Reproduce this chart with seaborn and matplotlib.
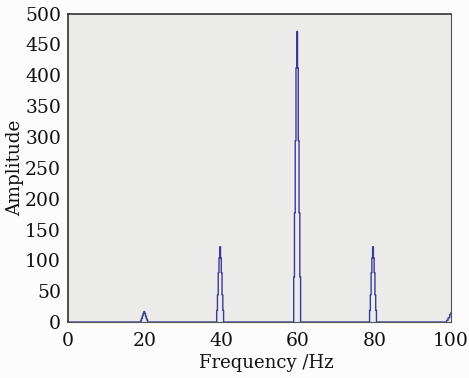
import numpy as np
import pandas as pd
import matplotlib
matplotlib.use('Agg')
import matplotlib.pyplot as plt
import seaborn as sns

# spectrum samples (Hz, amplitude)
freq_base = [0.0, 2.0, 4.0, 10.0, 18.7, 30.0, 38.5, 50.0, 58.6, 70.0, 78.4, 90.0, 98.6]
amp_base = [0, 0, 0, 0, 0, 0, 0, 0, 0, 0, 0, 0, 0]

freq_20 = [18.9, 19.1, 19.3, 19.5, 19.7, 19.9, 20.1, 20.3, 20.5, 20.7, 20.9]
amp_20 = [0, 3, 6, 10, 14, 17, 14, 10, 6, 3, 0]

freq_40 = [38.7, 38.9, 39.1, 39.3, 39.5, 39.7, 39.9, 40.1, 40.3, 40.5, 40.7]
amp_40 = [0, 19, 44, 80, 104, 122, 104, 80, 44, 19, 0]

freq_60 = [58.8, 59.0, 59.2, 59.4, 59.6, 59.8, 60.0, 60.2, 60.4, 60.6, 60.8]
amp_60 = [0, 73, 177, 294, 412, 471, 412, 294, 177, 73, 0]

freq_80 = [78.6, 78.8, 79.0, 79.2, 79.4, 79.6, 79.8, 80.0, 80.2, 80.4, 80.6]
amp_80 = [0, 19, 44, 80, 104, 122, 104, 80, 44, 19, 0]

freq_end = [99.0, 99.4, 99.8, 100.0]
amp_end = [3, 7, 12, 15]

df = pd.DataFrame({
    'Frequency': freq_base + freq_20 + freq_40 + freq_60 + freq_80 + freq_end,
    'Amplitude': amp_base + amp_20 + amp_40 + amp_60 + amp_80 + amp_end,
})

sns.set_theme(style='white')
plt.rcParams['font.family'] = ['DejaVu Serif']

fig = plt.figure(figsize=(4.69, 3.78), dpi=100)
fig.patch.set_facecolor('#fcfcfc')
ax = fig.add_axes([0.145, 0.148, 0.817, 0.816])
ax.set_facecolor('#ebebe9')

sns.lineplot(data=df, x='Frequency', y='Amplitude', ax=ax, color='#3a3a98',
             linewidth=1.0, drawstyle='steps-mid', clip_on=False, snap=False)

ax.set_xlim(0, 100)
ax.set_ylim(0, 500)
ax.set_xticks([0, 20, 40, 60, 80, 100])
ax.set_yticks(np.arange(0, 501, 50))
ax.tick_params(axis='both', length=0, labelsize=13.5, colors='#111111')
ax.tick_params(axis='x', pad=7)
ax.tick_params(axis='y', pad=5)
ax.set_xlabel('Frequency /Hz', fontsize=13, color='#111111', labelpad=3, x=0.517)
ax.set_ylabel('Amplitude', fontsize=13.3, color='#111111', labelpad=1)

for side in ['top', 'left']:
    ax.spines[side].set_color('#222222')
    ax.spines[side].set_linewidth(1.1)
for side in ['right', 'bottom']:
    ax.spines[side].set_color('#555555')
    ax.spines[side].set_linewidth(0.8)

fig.savefig('out.png', dpi=100, facecolor=fig.get_facecolor())
